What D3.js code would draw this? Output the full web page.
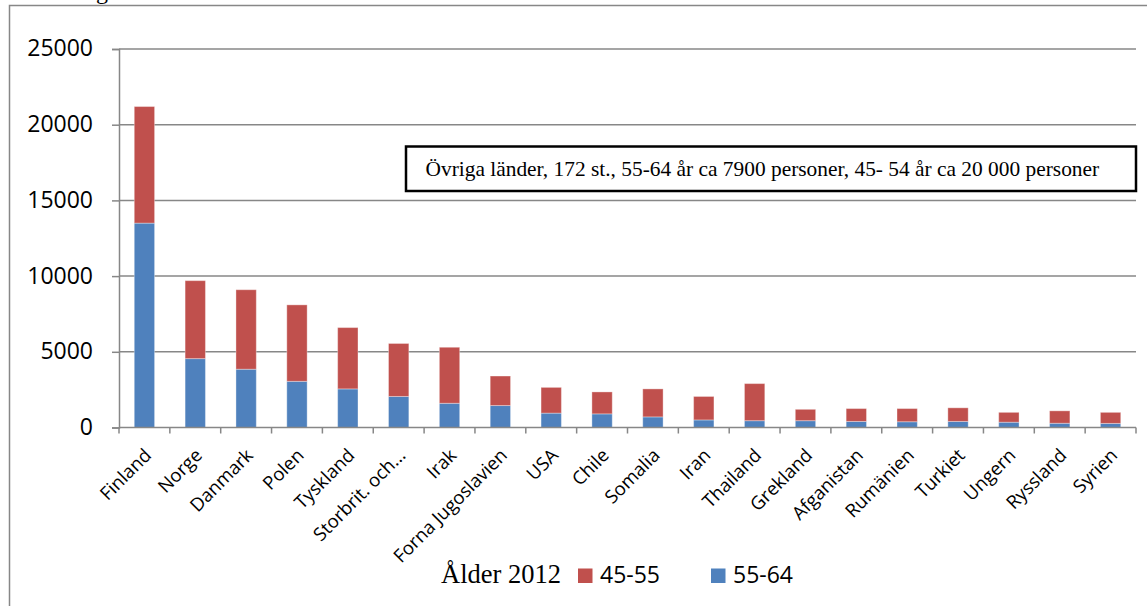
<!DOCTYPE html>
<html>
<head>
<meta charset="utf-8">
<script src="https://cdn.jsdelivr.net/npm/d3@7"></script>
<style>
  html, body { margin: 0; padding: 0; background: #fff; }
  svg { display: block; }
</style>
</head>
<body>
<svg id="chart" width="1147" height="606"></svg>
<script>
// Födelseländer, antal personer per åldersgrupp (2012)
const countries = ["Finland", "Norge", "Danmark", "Polen", "Tyskland", "Storbrit. och...",
  "Irak", "Forna Jugoslavien", "USA", "Chile", "Somalia", "Iran", "Thailand", "Grekland",
  "Afganistan", "Rumänien", "Turkiet", "Ungern", "Ryssland", "Syrien"];
const age5564 = [13500, 4550, 3850, 3050, 2550, 2050, 1600, 1450, 950, 900, 700, 500, 450, 450,
  400, 380, 400, 350, 280, 270];
const age4555 = [7700, 5150, 5250, 5050, 4050, 3500, 3700, 1950, 1700, 1450, 1850, 1550, 2450, 750,
  850, 870, 900, 650, 820, 730];
const yTicks = [0, 5000, 10000, 15000, 20000, 25000];
const seriesNames = ["45-55", "55-64"];
const legendTitle = "Ålder 2012";
const noteText = "Övriga länder, 172 st., 55-64 år ca 7900 personer, 45- 54 år ca 20 000 personer";

const colors = { "55-64": "#4F81BD", "45-55": "#C0504D" };
const gridColor = "#878787";
const sansFont = "'Open Sans', 'DejaVu Sans', sans-serif";
const serifFont = "'Liberation Serif', 'DejaVu Serif', serif";

const svg = d3.select("#chart");

// outer frame of the chart object (extends past the page edge)
svg.append("rect")
  .attr("x", 9.5).attr("y", 5.5)
  .attr("width", 1160).attr("height", 640)
  .attr("fill", "none").attr("stroke", gridColor).attr("stroke-width", 1.5);

// descender of the caption line above the chart
svg.append("text")
  .attr("x", 96).attr("y", -1)
  .style("font-family", serifFont).style("font-size", "24px")
  .text("g");

const plot = { left: 119, right: 1136, top: 49, bottom: 427.5 };

const x = d3.scaleBand().domain(countries).range([plot.left, plot.right]).padding(0);
const y = d3.scaleLinear().domain([0, 25000]).range([plot.bottom, plot.top]);

// horizontal gridlines
svg.append("g")
  .selectAll("line")
  .data(yTicks.filter(t => t > 0))
  .join("line")
  .attr("x1", plot.left).attr("x2", plot.right)
  .attr("y1", d => y(d)).attr("y2", d => y(d))
  .attr("stroke", gridColor).attr("stroke-width", 1.5);

// stacked bars
const rows = countries.map((c, i) => ({ country: c, "55-64": age5564[i], "45-55": age4555[i] }));
const stack = d3.stack().keys(["55-64", "45-55"]);
const layers = stack(rows);
const bw = x.bandwidth() * 0.4;

svg.append("g")
  .selectAll("g")
  .data(layers)
  .join("g")
  .attr("fill", d => colors[d.key])
  .selectAll("rect")
  .data(d => d)
  .join("rect")
  .attr("x", d => x(d.data.country) + (x.bandwidth() - bw) / 2)
  .attr("width", bw)
  .attr("y", d => y(d[1]))
  .attr("height", d => y(d[0]) - y(d[1]))
  .attr("stroke", "rgba(255,255,255,0.35)")
  .attr("stroke-width", 1);

// y axis
const yAxis = d3.axisLeft(y).tickValues(yTicks).tickSize(7).tickFormat(d3.format("d"));
const gy = svg.append("g").attr("transform", `translate(${plot.left},0)`).call(yAxis);
gy.select(".domain").attr("stroke", gridColor).attr("stroke-width", 1.5);
gy.selectAll(".tick line").attr("stroke", gridColor).attr("stroke-width", 1.5);
gy.selectAll(".tick text")
  .attr("x", -26)
  .attr("dy", "0.3em")
  .style("font-family", sansFont).style("font-size", "23px").attr("fill", "#000");

// x axis: baseline and tick marks at the band boundaries
const gx = svg.append("g");
gx.append("line")
  .attr("x1", plot.left).attr("x2", plot.right)
  .attr("y1", plot.bottom).attr("y2", plot.bottom)
  .attr("stroke", gridColor).attr("stroke-width", 1.5);
const bounds = countries.map(c => x(c)).concat([plot.right]);
gx.selectAll("line.tk")
  .data(bounds)
  .join("line")
  .attr("class", "tk")
  .attr("x1", d => d).attr("x2", d => d)
  .attr("y1", plot.bottom).attr("y2", plot.bottom + 6)
  .attr("stroke", gridColor).attr("stroke-width", 1.5);

gx.selectAll("text")
  .data(countries)
  .join("text")
  .attr("transform", d => `translate(${x(d) + x.bandwidth() / 2 + 8},${plot.bottom + 29}) rotate(-45)`)
  .attr("text-anchor", "end")
  .style("font-family", sansFont).style("font-size", "18.5px")
  .attr("fill", "#000")
  .text(d => d);

// note box
const note = svg.append("g");
note.append("rect")
  .attr("x", 406).attr("y", 146.5).attr("width", 730).attr("height", 44.5)
  .attr("fill", "#fff").attr("stroke", "#000").attr("stroke-width", 2.5);
note.append("text")
  .attr("x", 425.5).attr("y", 176)
  .style("font-family", serifFont).style("font-size", "21.4px")
  .attr("fill", "#000")
  .text(noteText);

// legend
const legend = svg.append("g");
legend.append("text")
  .attr("x", 441).attr("y", 583)
  .style("font-family", serifFont).style("font-size", "26.5px")
  .text(legendTitle);
const legX = [578, 711];
seriesNames.forEach((s, i) => {
  legend.append("rect")
    .attr("x", legX[i]).attr("y", 568.5).attr("width", 14.5).attr("height", 14.5)
    .attr("fill", colors[s]);
  legend.append("text")
    .attr("x", legX[i] + 22).attr("y", 583)
    .style("font-family", sansFont).style("font-size", "23px")
    .text(s);
});
</script>
</body>
</html>
